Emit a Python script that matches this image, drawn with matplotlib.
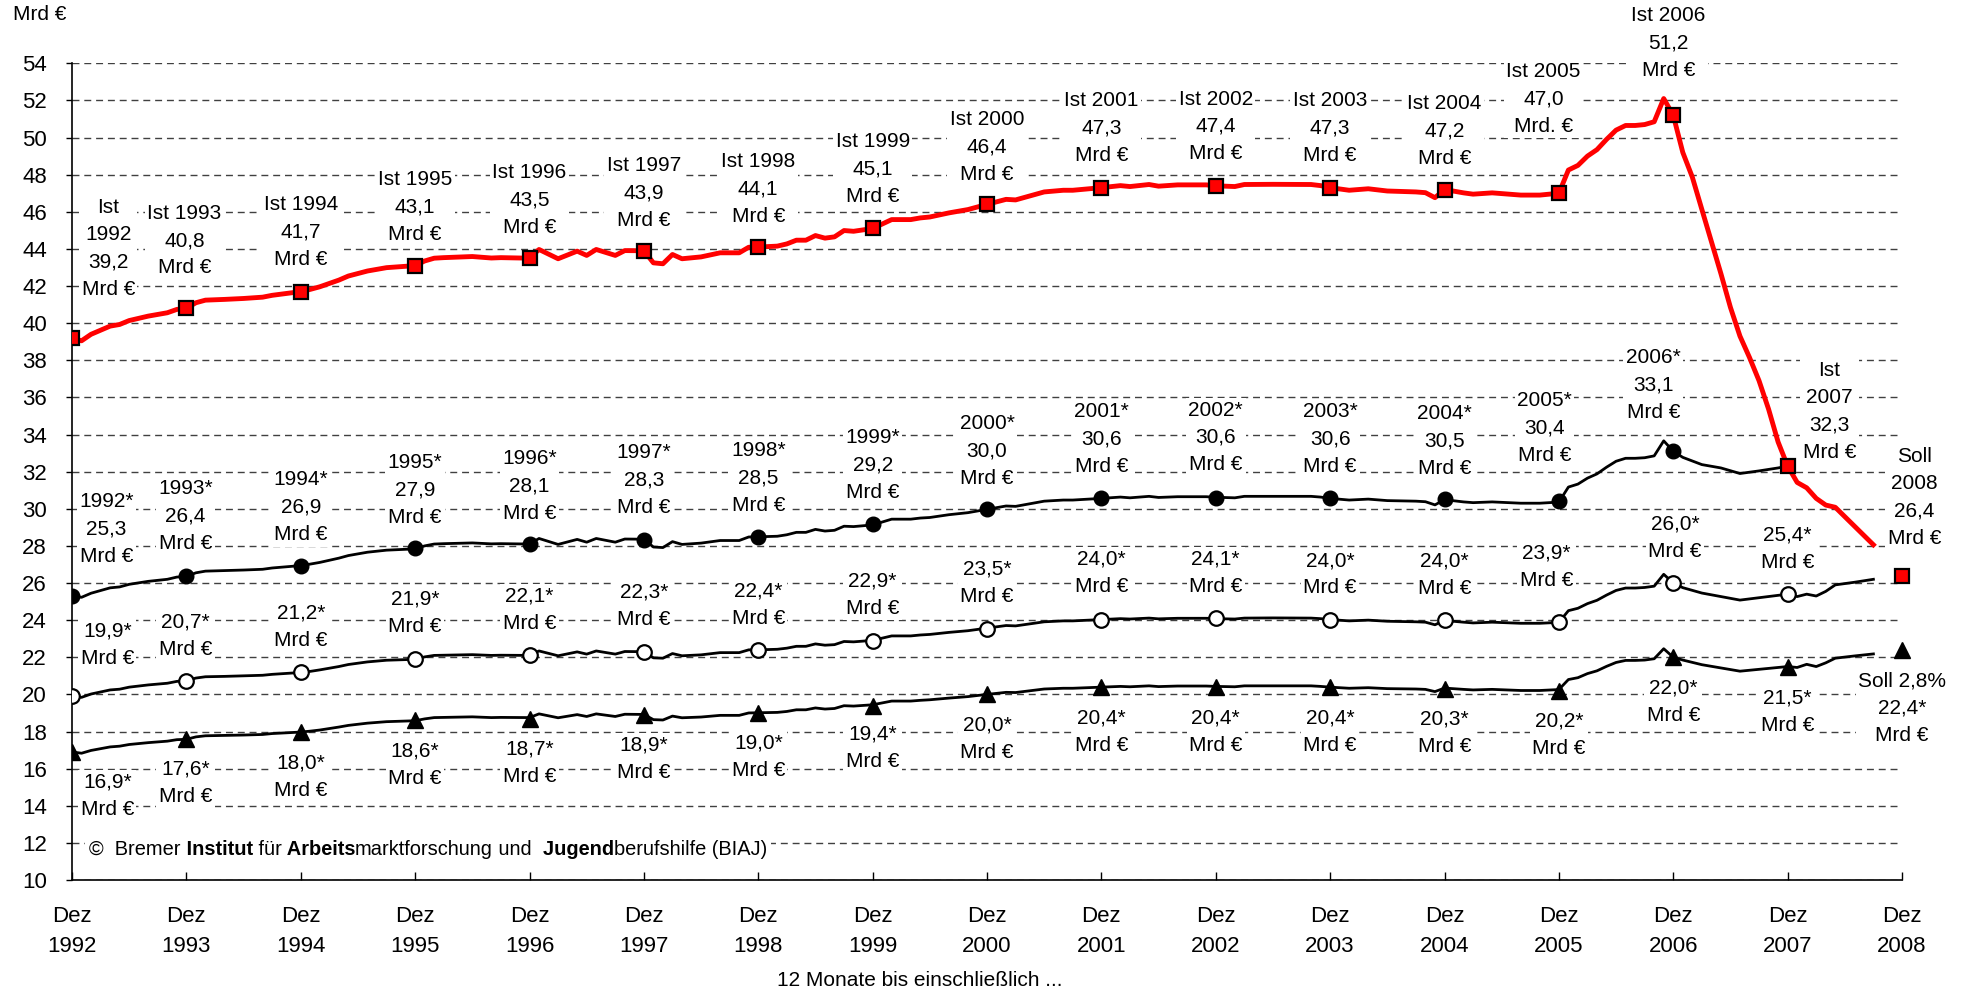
import matplotlib
matplotlib.use("Agg")
import matplotlib.pyplot as plt
from matplotlib.patches import Rectangle

plt.rcParams['font.family'] = ['Liberation Sans', 'DejaVu Sans']

# Monate ab Dez 1992 (0 = Dez 1992, 192 = Dez 2008)
t_main = [0, 1, 2, 4, 5, 6, 8, 10, 11, 12,
          13, 14, 16, 18, 20, 21, 24,
          25, 26, 28, 29, 31, 33, 36,
          37, 38, 39, 42, 44, 45, 48,
          49, 51, 53, 54, 55, 57, 58, 60,
          61, 62, 63, 64, 66, 68, 70, 71, 72,
          74, 75, 76, 77, 78, 79, 80, 81, 82, 84,
          86, 88, 89, 90, 92, 94, 96,
          98, 99, 102, 104, 105, 108,
          110, 111, 113, 114, 116, 119, 120,
          122, 123, 126, 130, 131, 132,
          134, 136, 138, 141, 142, 143, 144,
          146, 147, 149, 152, 154, 156,
          157, 158, 159, 160, 161, 162, 163, 164, 165, 166, 167, 168]

# Ist (rot)
ist_main = [39.2, 39.05, 39.4, 39.84, 39.93, 40.14, 40.38, 40.56, 40.74, 40.8,
            41.1, 41.24, 41.28, 41.33, 41.4, 41.5, 41.7,
            41.82, 41.96, 42.32, 42.54, 42.81, 42.99, 43.1,
            43.35, 43.5, 43.53, 43.59, 43.51, 43.53, 43.5,
            43.97, 43.47, 43.88, 43.65, 43.97, 43.65, 43.91, 43.9,
            43.25, 43.2, 43.7, 43.47, 43.57, 43.79, 43.79, 44.09, 44.1,
            44.15, 44.27, 44.47, 44.47, 44.72, 44.58, 44.65, 44.99, 44.95, 45.1,
            45.58, 45.58, 45.67, 45.72, 45.94, 46.12, 46.4,
            46.67, 46.64, 47.07, 47.16, 47.16, 47.3,
            47.41, 47.36, 47.47, 47.38, 47.45, 47.45, 47.4,
            47.36, 47.47, 47.48, 47.47, 47.41, 47.3,
            47.16, 47.24, 47.12, 47.07, 47.03, 46.76, 47.2,
            47.02, 46.95, 47.02, 46.9, 46.9, 47.0,
            48.25, 48.5, 49.0, 49.35, 49.9, 50.4, 50.65, 50.65, 50.7, 50.85, 52.1, 51.2]
t_ist_tail = [169, 170, 171, 172, 173, 174, 175, 176, 177, 178, 179, 180,
              181, 182, 183, 184, 185, 189]
ist_tail = [49.2, 47.87, 46.13, 44.4, 42.67, 40.85, 39.3, 38.15, 36.9, 35.37, 33.6, 32.3,
            31.42, 31.13, 30.56, 30.2, 30.08, 28.06]

# gefuellte Kreise
r42_main = [25.32, 25.23, 25.45, 25.74, 25.79, 25.93, 26.09, 26.20, 26.32, 26.36,
            26.55, 26.64, 26.67, 26.70, 26.74, 26.81, 26.94,
            27.02, 27.11, 27.34, 27.48, 27.66, 27.77, 27.84,
            28.00, 28.10, 28.12, 28.16, 28.11, 28.12, 28.10,
            28.40, 28.08, 28.35, 28.20, 28.40, 28.20, 28.37, 28.36,
            27.94, 27.91, 28.23, 28.08, 28.15, 28.29, 28.29, 28.48, 28.49,
            28.52, 28.60, 28.73, 28.73, 28.89, 28.80, 28.84, 29.06, 29.04, 29.13,
            29.44, 29.44, 29.50, 29.53, 29.68, 29.79, 29.97,
            30.15, 30.13, 30.41, 30.47, 30.47, 30.56,
            30.63, 30.59, 30.67, 30.61, 30.65, 30.65, 30.62,
            30.59, 30.67, 30.67, 30.67, 30.63, 30.56,
            30.47, 30.52, 30.44, 30.41, 30.38, 30.21, 30.49,
            30.37, 30.33, 30.37, 30.30, 30.30, 30.36,
            31.17, 31.33, 31.65, 31.88, 32.24, 32.56, 32.72, 32.72, 32.75, 32.85, 33.66, 33.1]
t_r42_tail = [169, 171, 173, 175, 177, 179, 180]
r42_tail = [32.77, 32.38, 32.2, 31.9, 32.04, 32.2, 32.3]

# offene Kreise
r33_main = [19.91, 19.84, 20.02, 20.24, 20.28, 20.39, 20.51, 20.60, 20.70, 20.73,
            20.88, 20.95, 20.97, 21.00, 21.03, 21.08, 21.18,
            21.24, 21.32, 21.50, 21.61, 21.75, 21.84, 21.89,
            22.02, 22.10, 22.11, 22.14, 22.10, 22.11, 22.10,
            22.34, 22.08, 22.29, 22.17, 22.34, 22.17, 22.31, 22.30,
            21.97, 21.95, 22.20, 22.08, 22.13, 22.25, 22.25, 22.40, 22.40,
            22.43, 22.49, 22.59, 22.59, 22.72, 22.65, 22.68, 22.85, 22.83, 22.91,
            23.15, 23.15, 23.20, 23.23, 23.34, 23.43, 23.57,
            23.71, 23.69, 23.91, 23.96, 23.96, 24.03,
            24.08, 24.06, 24.11, 24.07, 24.10, 24.10, 24.08,
            24.06, 24.11, 24.12, 24.11, 24.08, 24.03,
            23.96, 24.00, 23.94, 23.91, 23.89, 23.75, 23.98,
            23.89, 23.85, 23.89, 23.83, 23.83, 23.88,
            24.51, 24.64, 24.89, 25.07, 25.35, 25.60, 25.73, 25.73, 25.76, 25.83, 26.47, 26.0]
t_r33_tail = [169, 171, 175, 180, 181, 182, 183, 184, 185, 187, 189]
r33_tail = [25.75, 25.46, 25.08, 25.4, 25.27, 25.4, 25.3, 25.55, 25.9, 26.04, 26.2]

# Dreiecke
r28_main = [16.90, 16.83, 16.98, 17.17, 17.21, 17.30, 17.40, 17.48, 17.56, 17.58,
            17.71, 17.77, 17.79, 17.81, 17.84, 17.89, 17.97,
            18.02, 18.08, 18.24, 18.33, 18.45, 18.53, 18.58,
            18.68, 18.75, 18.76, 18.79, 18.75, 18.76, 18.75,
            18.95, 18.74, 18.91, 18.81, 18.95, 18.81, 18.93, 18.92,
            18.64, 18.62, 18.83, 18.74, 18.78, 18.87, 18.87, 19.00, 19.01,
            19.03, 19.08, 19.17, 19.17, 19.27, 19.21, 19.24, 19.39, 19.37, 19.44,
            19.64, 19.64, 19.68, 19.71, 19.80, 19.88, 20.00,
            20.11, 20.10, 20.29, 20.33, 20.33, 20.39,
            20.43, 20.41, 20.46, 20.42, 20.45, 20.45, 20.43,
            20.41, 20.46, 20.46, 20.46, 20.43, 20.39,
            20.33, 20.36, 20.31, 20.29, 20.27, 20.15, 20.34,
            20.27, 20.24, 20.27, 20.21, 20.21, 20.26,
            20.80, 20.90, 21.12, 21.27, 21.51, 21.72, 21.83, 21.83, 21.85, 21.92, 22.46, 22.0]
t_r28_tail = [169, 171, 175, 180, 181, 182, 183, 184, 185, 187, 189]
r28_tail = [21.85, 21.6, 21.25, 21.5, 21.45, 21.62, 21.5, 21.7, 21.95, 22.07, 22.18]

# Jahreswerte (Dez)
years = list(range(1992, 2008))
ist_dez = [39.2, 40.8, 41.7, 43.1, 43.5, 43.9, 44.1, 45.1, 46.4, 47.3, 47.4, 47.3, 47.2, 47.0, 51.2, 32.3]
r42_dez = [25.3, 26.4, 26.9, 27.9, 28.1, 28.3, 28.5, 29.2, 30.0, 30.6, 30.6, 30.6, 30.5, 30.4, 33.1]
r33_dez = [19.9, 20.7, 21.2, 21.9, 22.1, 22.3, 22.4, 22.9, 23.5, 24.0, 24.1, 24.0, 24.0, 23.9, 26.0, 25.4]
r28_dez = [16.9, 17.6, 18.0, 18.6, 18.7, 18.9, 19.0, 19.4, 20.0, 20.4, 20.4, 20.4, 20.3, 20.2, 22.0, 21.5]
soll_2008 = 26.4
soll_28_2008 = 22.4

tick_years = list(range(1992, 2009))

# Beschriftungspositionen (Monat, Wert)
ist_lab_x = [3.8, 11.8, 24, 36, 48, 60, 72, 84, 96, 108, 120, 132, 144, 154.4, 167.5, 184.4]
ist_lab_y = [44.04, 44.45, 44.9, 46.26, 46.64, 47.03, 47.23, 48.3, 49.5, 50.5, 50.6, 50.5, 50.37, 52.08, 55.1, 35.26]
r42_lab_x = [3.6, 11.9, 24, 36, 48, 60, 72, 84, 96, 108, 120, 132, 144, 154.5, 165.9]
r42_lab_y = [28.9, 29.59, 30.08, 31.0, 31.24, 31.56, 31.65, 32.37, 33.12, 33.75, 33.84, 33.75, 33.66, 34.34, 36.68]
r33_lab_x = [3.7, 11.9, 24, 36, 48, 60, 72, 84, 96, 108, 120, 132, 144, 154.7, 168.2, 180]
r33_lab_y = [22.68, 23.15, 23.66, 24.38, 24.54, 24.76, 24.83, 25.37, 26.0, 26.54, 26.55, 26.47, 26.45, 26.88, 28.42, 27.83]
r28_lab_x = [3.7, 11.9, 24, 36, 48, 60, 72, 84, 96, 108, 120, 132, 144, 156, 168, 180]
r28_lab_y = [14.56, 15.23, 15.58, 16.2, 16.33, 16.52, 16.66, 17.11, 17.6, 18.0, 18.0, 18.0, 17.94, 17.83, 19.62, 19.08]


def fmt(v):
    return f"{v:.1f}".replace(".", ",")


fig = plt.figure(figsize=(19.69, 9.89), dpi=100)
ax = fig.add_axes([72 / 1969, 1 - 880 / 989, 1830 / 1969, (880 - 63.3) / 989])
ax.set_xlim(0, 192)
ax.set_ylim(10, 54)

dez_t = [(y - 1992) * 12 for y in years]
soll_t = (2008 - 1992) * 12

# Linien
ax.plot(t_main + t_ist_tail, ist_main + ist_tail, color='red', lw=3.5, zorder=4,
        solid_joinstyle='round')
ax.plot(t_main + t_r42_tail, r42_main + r42_tail, color='black', lw=2, zorder=4)
ax.plot(t_main + t_r33_tail, r33_main + r33_tail, color='black', lw=2, zorder=4)
ax.plot(t_main + t_r28_tail, r28_main + r28_tail, color='black', lw=2, zorder=4)

# Marker an den Dezemberwerten
ax.plot(dez_t[:len(r42_dez)], r42_dez, ls='none', marker='o', ms=10.5, mfc='black',
        mec='black', zorder=5)
ax.plot(dez_t, r33_dez, ls='none', marker='o', ms=10.5, mfc='white', mec='black',
        mew=1.6, zorder=5)
ax.plot(dez_t, r28_dez, ls='none', marker='^', ms=11, mfc='black', mec='black',
        zorder=5)
ax.plot(dez_t, ist_dez, ls='none', marker='s', ms=10.5, mfc='red', mec='black',
        mew=1.6, zorder=6)
ax.plot([soll_t], [soll_2008], ls='none', marker='s', ms=10.5, mfc='red', mec='black',
        mew=1.6, zorder=6, clip_on=False)
ax.plot([soll_t], [soll_28_2008], ls='none', marker='^', ms=11, mfc='black',
        mec='black', zorder=6, clip_on=False)

# Beschriftungen
box = dict(boxstyle='square,pad=0.12', fc='white', ec='none')


def lab(x, y, s):
    ax.text(x, y, s, ha='center', va='center', fontsize=15, linespacing=1.56,
            bbox=box, zorder=2.4, clip_on=False)


for i, (y, v) in enumerate(zip(years, ist_dez)):
    unit = "Mrd. €" if y == 2005 else "Mrd €"
    if y in (1992, 2007):
        s = f"Ist\n{y}\n{fmt(v)}\n{unit}"
    else:
        s = f"Ist {y}\n{fmt(v)}\n{unit}"
    lab(ist_lab_x[i], ist_lab_y[i], s)
lab(193.3, 30.6, f"Soll\n2008\n{fmt(soll_2008)}\nMrd €")

for i, (y, v) in enumerate(zip(years, r42_dez)):
    lab(r42_lab_x[i], r42_lab_y[i], f"{y}*\n{fmt(v)}\nMrd €")
for i, v in enumerate(r33_dez):
    lab(r33_lab_x[i], r33_lab_y[i], f"{fmt(v)}*\nMrd €")
for i, v in enumerate(r28_dez):
    lab(r28_lab_x[i], r28_lab_y[i], f"{fmt(v)}*\nMrd €")
lab(192, 19.27, f"Soll 2,8%\n{fmt(soll_28_2008)}*\nMrd €")

# Achsen
for side in ('top', 'right'):
    ax.spines[side].set_visible(False)
ax.spines['left'].set_linewidth(1.2)
ax.spines['bottom'].set_linewidth(1.2)

ax.set_yticks(range(10, 55, 2))
ax.tick_params(axis='y', direction='out', length=4, width=1, pad=14, labelsize=16)
ax.set_xticks([(y - 1992) * 12 for y in tick_years])
ax.set_xticklabels([f"Dez\n{y}" for y in tick_years])
ax.tick_params(axis='x', direction='in', length=6, width=1, pad=19, labelsize=16)
for lbl in ax.get_xticklabels():
    lbl.set_linespacing(1.55)

ax.yaxis.grid(True, linestyle=(0, (5, 3.5)), color='#404040', lw=1)
ax.set_axisbelow(True)

fig.text(13 / 1969, 1 - 15 / 989, "Mrd €", ha='left', va='center', fontsize=15)
fig.text(920 / 1969, 1 - 981 / 989, "12 Monate bis einschließlich ...",
         ha='center', va='center', fontsize=15)

# Copyright-Zeile mit fetten Teilen
parts = [("©  Bremer", "normal"), (" Institut", "bold"), (" für", "normal"),
         (" Arbeits", "bold"), ("marktforschung", "normal"), (" und", "normal"),
         ("  Jugend", "bold"), ("berufshilfe (BIAJ)", "normal")]
fig.canvas.draw()
renderer = fig.canvas.get_renderer()
x0, y0 = ax.transData.transform((1.8, 11.66))
xf = x0 / fig.bbox.width
yf = y0 / fig.bbox.height
x_start = xf
for s, w in parts:
    txt = fig.text(xf, yf, s, fontweight=w, fontsize=14.4, ha='left', va='center',
                   zorder=3)
    xf += txt.get_window_extent(renderer).width / fig.bbox.width

# weisser Hintergrund hinter der Copyright-Zeile
h = 24 / fig.bbox.height
fig.patches.append(Rectangle((x_start - 4 / fig.bbox.width, yf - h / 2),
                             xf - x_start + 8 / fig.bbox.width, h,
                             transform=fig.transFigure, fc='white', ec='none',
                             zorder=2.9))

fig.savefig("out.png", dpi=100)
